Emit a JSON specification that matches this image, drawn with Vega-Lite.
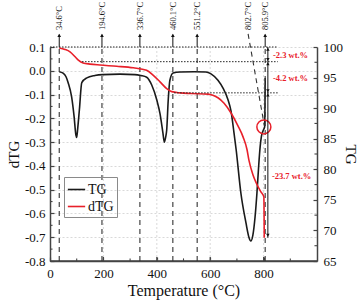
{
  "$schema": "https://vega.github.io/schema/vega-lite/v6.json",
  "width": 267,
  "height": 214,
  "autosize": "none",
  "padding": {"left": 50, "top": 47, "right": 45, "bottom": 42},
  "background": "white",
  "config": {
    "font": "Liberation Serif",
    "view": {"stroke": null},
    "axis": {
      "labelFont": "Liberation Serif",
      "titleFont": "Liberation Serif",
      "labelFontSize": 13,
      "titleFontSize": 16,
      "titleFontWeight": "normal",
      "labelColor": "#111",
      "titleColor": "#111",
      "domainColor": "#444",
      "domainWidth": 1.5,
      "tickColor": "#444",
      "tickWidth": 1.2,
      "gridColor": "#cfcfcf",
      "gridDash": [2, 2],
      "gridWidth": 0.8
    }
  },
  "datasets": {
    "black": [
      {"t": 34.6, "d": -0.004}, {"t": 49, "d": -0.01}, {"t": 60, "d": -0.025}, {"t": 68, "d": -0.05},
      {"t": 81, "d": -0.11}, {"t": 90, "d": -0.19}, {"t": 97, "d": -0.27}, {"t": 100, "d": -0.28},
      {"t": 104, "d": -0.24}, {"t": 110, "d": -0.165}, {"t": 119, "d": -0.05}, {"t": 138, "d": -0.03},
      {"t": 168, "d": -0.02}, {"t": 198, "d": -0.016}, {"t": 262, "d": -0.014}, {"t": 318, "d": -0.016},
      {"t": 340, "d": -0.02}, {"t": 362, "d": -0.027}, {"t": 381, "d": -0.06}, {"t": 400, "d": -0.123},
      {"t": 412, "d": -0.18}, {"t": 423, "d": -0.262}, {"t": 428, "d": -0.3}, {"t": 433, "d": -0.28},
      {"t": 437, "d": -0.25}, {"t": 443, "d": -0.12}, {"t": 449, "d": -0.04}, {"t": 461, "d": -0.009},
      {"t": 487, "d": -0.005}, {"t": 540, "d": -0.004}, {"t": 584, "d": -0.005}, {"t": 603, "d": -0.013},
      {"t": 629, "d": -0.04}, {"t": 648, "d": -0.073}, {"t": 667, "d": -0.123}, {"t": 678, "d": -0.17},
      {"t": 689, "d": -0.26}, {"t": 697, "d": -0.33}, {"t": 715, "d": -0.515}, {"t": 734, "d": -0.64},
      {"t": 745, "d": -0.7}, {"t": 752, "d": -0.716}, {"t": 760, "d": -0.69}, {"t": 768, "d": -0.615},
      {"t": 775, "d": -0.515}, {"t": 781, "d": -0.41}, {"t": 787, "d": -0.32}, {"t": 792, "d": -0.275},
      {"t": 798, "d": -0.252}, {"t": 804, "d": -0.236}, {"t": 806, "d": -0.03}
    ],
    "red": [
      {"t": 34.6, "w": 99.85}, {"t": 56, "w": 99.6}, {"t": 75, "w": 99.2}, {"t": 94, "w": 98.4},
      {"t": 105, "w": 97.9}, {"t": 124, "w": 97.4}, {"t": 150, "w": 97.2}, {"t": 187, "w": 97.05},
      {"t": 250, "w": 96.85}, {"t": 312, "w": 96.6}, {"t": 362, "w": 96.2}, {"t": 386, "w": 95.4},
      {"t": 412, "w": 94.3}, {"t": 437, "w": 93.2}, {"t": 456, "w": 92.7}, {"t": 487, "w": 92.5},
      {"t": 528, "w": 92.4}, {"t": 592, "w": 92.3}, {"t": 610, "w": 92.1}, {"t": 629, "w": 91.7},
      {"t": 652, "w": 90.8}, {"t": 678, "w": 89.2}, {"t": 704, "w": 87.1}, {"t": 723, "w": 85.3},
      {"t": 738, "w": 83.2}, {"t": 745, "w": 81.5}, {"t": 760, "w": 79.1}, {"t": 772, "w": 77.8},
      {"t": 790, "w": 76.3}, {"t": 801, "w": 75.5}, {"t": 802.5, "w": 68.8}
    ],
    "vlines": [
      {"t": 34.6, "label": "34.6°C"}, {"t": 194.6, "label": "194.6°C"}, {"t": 336.7, "label": "336.7°C"},
      {"t": 460.1, "label": "460.1°C"}, {"t": 551.2, "label": "551.2°C"}, {"t": 805.9, "label": "805.9°C"}
    ],
    "slant": [{"t": 742, "d": 0.155}, {"t": 803, "d": -0.232}],
    "slantLabel": [{"t": 742, "label": "802.7°C"}],
    "circle": [{"t": 801, "d": -0.236}],
    "hlines": [
      {"w": 100, "t": 0, "t1": 853},
      {"w": 97.6, "t": 120, "t1": 853},
      {"w": 92.5, "t": 465, "t1": 853}
    ],
    "arrowDown": [{"t": 816, "w": 97.95}, {"t": 816, "w": 92.85}, {"t": 816, "w": 69.2}],
    "arrowUp": [{"t": 816, "w": 99.65}, {"t": 816, "w": 97.25}, {"t": 816, "w": 92.15}],
    "notes": [
      {"t": 835, "w": 98.7, "label": "-2.3 wt.%"},
      {"t": 835, "w": 94.9, "label": "-4.2 wt.%"},
      {"t": 831, "w": 78.9, "label": "-23.7 wt.%"}
    ],
    "xgrid": [{"t": 200}, {"t": 400}, {"t": 600}, {"t": 800}],
    "xbase": [{"t": 0, "t1": 1000}],
    "xmajor": [{"t": 200}, {"t": 400}, {"t": 600}, {"t": 800}],
    "xminor": [{"t": 100}, {"t": 300}, {"t": 500}, {"t": 700}, {"t": 900}],
    "yminorL": [{"t": 0, "t1": 9.5, "d": -0.75}, {"t": 0, "t1": 9.5, "d": -0.65}, {"t": 0, "t1": 9.5, "d": -0.55}, {"t": 0, "t1": 9.5, "d": -0.45}, {"t": 0, "t1": 9.5, "d": -0.35}, {"t": 0, "t1": 9.5, "d": -0.25}, {"t": 0, "t1": 9.5, "d": -0.15}, {"t": 0, "t1": 9.5, "d": -0.05}, {"t": 0, "t1": 9.5, "d": 0.05}],
    "yminorR": [{"t": 990.5, "t1": 1000, "w": 67.5}, {"t": 990.5, "t1": 1000, "w": 72.5}, {"t": 990.5, "t1": 1000, "w": 77.5}, {"t": 990.5, "t1": 1000, "w": 82.5}, {"t": 990.5, "t1": 1000, "w": 87.5}, {"t": 990.5, "t1": 1000, "w": 92.5}, {"t": 990.5, "t1": 1000, "w": 97.5}],
    "arrowLine": [{"t": 816}]
  },
  "encoding": {
    "x": {"field": "t", "type": "quantitative",
      "scale": {"domain": [0, 1000], "nice": false, "zero": false},
      "axis": {"orient": "bottom", "title": "Temperature (°C)", "values": [0, 200, 400, 600, 800],
        "grid": false, "tickSize": -4, "labelPadding": 10, "titlePadding": 2, "labelFlush": false}}
  },
  "layer": [
    {
      "data": {"name": "xgrid"},
      "mark": {"type": "rule", "strokeDash": [2, 2], "strokeWidth": 0.8, "color": "#cfcfcf"},
      "encoding": {
        "y": {"datum": -0.8, "type": "quantitative", "scale": {"domain": [-0.8, 0.1], "nice": false, "zero": false}, "axis": null},
        "y2": {"datum": 0.1}
      }
    },
    {
      "data": {"name": "black"},
      "mark": {"type": "line", "strokeWidth": 1.6, "interpolate": "monotone"},
      "encoding": {
        "y": {"field": "d", "type": "quantitative",
          "scale": {"domain": [-0.8, 0.1], "nice": false, "zero": false},
          "axis": {"orient": "left", "title": "dTG", "values": [-0.8, -0.7, -0.6, -0.5, -0.4, -0.3, -0.2, -0.1, 0, 0.1],
            "labelExpr": "(datum.value < 0 ? '-' : '') + format(abs(datum.value), '.1f')",
            "grid": true, "tickSize": -4, "labelPadding": 9, "titlePadding": 3, "titleFontSize": 15, "labelFlush": false}},
        "color": {"datum": "TG", "type": "nominal",
          "scale": {"domain": ["TG", "dTG"], "range": ["#1a1a1a", "#e8202a"]},
          "legend": {"orient": "none", "legendX": 14, "legendY": 130, "title": null,
            "strokeColor": "#8a8a8a", "padding": 3, "symbolType": "stroke", "symbolSize": 300,
            "symbolStrokeWidth": 1.6, "labelFont": "Liberation Serif", "labelFontSize": 14,
            "labelColor": "#111", "rowPadding": 0, "labelOffset": 2}}
      }
    },
    {
      "data": {"name": "xbase"},
      "mark": {"type": "rule", "strokeWidth": 1.5, "color": "#444"},
      "encoding": {
        "x2": {"field": "t1"},
        "y": {"datum": -0.8, "type": "quantitative", "scale": {"domain": [-0.8, 0.1], "nice": false, "zero": false}, "axis": null}
      }
    },
    {
      "data": {"name": "xmajor"},
      "mark": {"type": "rule", "strokeWidth": 1.2, "color": "#444"},
      "encoding": {
        "y": {"datum": -0.8, "type": "quantitative", "scale": {"domain": [-0.8, 0.1], "nice": false, "zero": false}, "axis": null},
        "y2": {"datum": -0.783}
      }
    },
    {
      "data": {"name": "vlines"},
      "mark": {"type": "rule", "strokeDash": [5, 4], "strokeWidth": 1.1, "color": "#333"},
      "encoding": {
        "y": {"datum": -0.8, "type": "quantitative", "scale": {"domain": [-0.8, 0.1], "nice": false, "zero": false}, "axis": null},
        "y2": {"datum": 0.1}
      }
    },
    {
      "data": {"name": "xminor"},
      "mark": {"type": "rule", "strokeWidth": 1.1, "color": "#444"},
      "encoding": {
        "y": {"datum": -0.8, "type": "quantitative", "scale": {"domain": [-0.8, 0.1], "nice": false, "zero": false}, "axis": null},
        "y2": {"datum": -0.789}
      }
    },
    {
      "data": {"name": "yminorL"},
      "mark": {"type": "rule", "strokeWidth": 1.1, "color": "#444"},
      "encoding": {
        "x2": {"field": "t1"},
        "y": {"field": "d", "type": "quantitative", "scale": {"domain": [-0.8, 0.1], "nice": false, "zero": false}, "axis": null}
      }
    },
    {
      "data": {"name": "vlines"},
      "mark": {"type": "rule", "strokeWidth": 1, "color": "#111"},
      "encoding": {
        "y": {"datum": 0.1, "type": "quantitative", "scale": {"domain": [-0.8, 0.1], "nice": false, "zero": false}, "axis": null},
        "y2": {"datum": 0.152}
      }
    },
    {
      "data": {"name": "vlines"},
      "mark": {"type": "point", "shape": "triangle-up", "filled": true, "size": 14, "color": "#111", "opacity": 1},
      "encoding": {
        "y": {"datum": 0.149, "type": "quantitative", "scale": {"domain": [-0.8, 0.1], "nice": false, "zero": false}, "axis": null}
      }
    },
    {
      "data": {"name": "vlines"},
      "mark": {"type": "text", "angle": 270, "align": "left", "baseline": "middle", "fontSize": 8.5, "color": "#111"},
      "encoding": {
        "y": {"datum": 0.171, "type": "quantitative", "scale": {"domain": [-0.8, 0.1], "nice": false, "zero": false}, "axis": null},
        "text": {"field": "label"}
      }
    },
    {
      "data": {"name": "slantLabel"},
      "mark": {"type": "text", "angle": 270, "align": "left", "baseline": "middle", "fontSize": 8.5, "color": "#111"},
      "encoding": {
        "y": {"datum": 0.171, "type": "quantitative", "scale": {"domain": [-0.8, 0.1], "nice": false, "zero": false}, "axis": null},
        "text": {"field": "label"}
      }
    },
    {
      "data": {"name": "slant"},
      "mark": {"type": "line", "strokeDash": [5, 4], "strokeWidth": 1.1, "color": "#333"},
      "encoding": {
        "y": {"field": "d", "type": "quantitative", "scale": {"domain": [-0.8, 0.1], "nice": false, "zero": false}, "axis": null}
      }
    },
    {
      "data": {"name": "circle"},
      "mark": {"type": "point", "shape": "circle", "filled": false, "size": 196, "color": "#e8202a", "strokeWidth": 1.5, "opacity": 1},
      "encoding": {
        "y": {"field": "d", "type": "quantitative", "scale": {"domain": [-0.8, 0.1], "nice": false, "zero": false}, "axis": null}
      }
    },
    {
      "data": {"name": "red"},
      "mark": {"type": "line", "strokeWidth": 1.6, "interpolate": "monotone"},
      "encoding": {
        "y": {"field": "w", "type": "quantitative",
          "scale": {"domain": [65, 100], "nice": false, "zero": false},
          "axis": {"orient": "right", "title": "TG", "values": [65, 70, 75, 80, 85, 90, 95, 100],
            "grid": false, "tickSize": -4, "labelPadding": 10, "titlePadding": 0, "titleFontSize": 15, "labelFlush": false}},
        "color": {"datum": "dTG", "type": "nominal"}
      }
    },
    {
      "data": {"name": "yminorR"},
      "mark": {"type": "rule", "strokeWidth": 1.1, "color": "#444"},
      "encoding": {
        "x2": {"field": "t1"},
        "y": {"field": "w", "type": "quantitative", "scale": {"domain": [65, 100], "nice": false, "zero": false}, "axis": null}
      }
    },
    {
      "data": {"name": "hlines"},
      "mark": {"type": "rule", "strokeDash": [1.5, 1.5], "strokeWidth": 1, "color": "#222"},
      "encoding": {
        "x2": {"field": "t1"},
        "y": {"field": "w", "type": "quantitative", "scale": {"domain": [65, 100], "nice": false, "zero": false}, "axis": null}
      }
    },
    {
      "data": {"name": "arrowLine"},
      "mark": {"type": "rule", "strokeWidth": 1, "color": "#111"},
      "encoding": {
        "y": {"datum": 100, "type": "quantitative", "scale": {"domain": [65, 100], "nice": false, "zero": false}, "axis": null},
        "y2": {"datum": 68.8}
      }
    },
    {
      "data": {"name": "arrowDown"},
      "mark": {"type": "point", "shape": "triangle-down", "filled": true, "size": 12, "color": "#111", "opacity": 1},
      "encoding": {
        "y": {"field": "w", "type": "quantitative", "scale": {"domain": [65, 100], "nice": false, "zero": false}, "axis": null}
      }
    },
    {
      "data": {"name": "arrowUp"},
      "mark": {"type": "point", "shape": "triangle-up", "filled": true, "size": 12, "color": "#111", "opacity": 1},
      "encoding": {
        "y": {"field": "w", "type": "quantitative", "scale": {"domain": [65, 100], "nice": false, "zero": false}, "axis": null}
      }
    },
    {
      "data": {"name": "notes"},
      "mark": {"type": "text", "align": "left", "baseline": "middle", "fontSize": 8.5, "fontWeight": "bold", "color": "#e8202a"},
      "encoding": {
        "y": {"field": "w", "type": "quantitative", "scale": {"domain": [65, 100], "nice": false, "zero": false}, "axis": null},
        "text": {"field": "label"}
      }
    }
  ],
  "resolve": {"scale": {"y": "independent"}}
}
